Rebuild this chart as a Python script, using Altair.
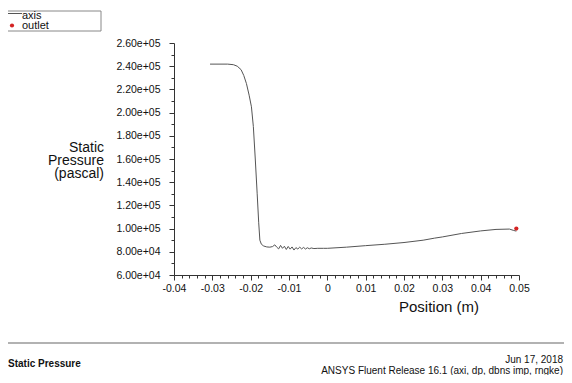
import altair as alt
import pandas as pd

# ---- data ----
position = [-0.0306, -0.026, -0.0245, -0.0235, -0.0225, -0.0218, -0.0211, -0.0204,
            -0.0198, -0.0193, -0.0188, -0.0183, -0.0179, -0.0176, -0.0172, -0.0166,
            -0.0158, -0.015, -0.0143, -0.0137, -0.0132, -0.0127, -0.0122, -0.0117,
            -0.0112, -0.0107, -0.0102, -0.0097, -0.0092, -0.0087, -0.0082, -0.0077,
            -0.0072, -0.0067, -0.0062, -0.0057, -0.0052, -0.0047, -0.0042, -0.0035,
            -0.0025, -0.001, 0.0, 0.005, 0.01, 0.015, 0.02, 0.025, 0.028, 0.03,
            0.035, 0.04, 0.044, 0.0475, 0.0485, 0.0493]
pressure = [241800, 241800, 241300, 240000, 237000, 232000, 225000, 215000,
            205000, 188000, 160000, 130000, 105000, 90000, 86500, 85000,
            84200, 84000, 84500, 86000, 84000, 82500, 85500, 83000,
            84800, 82000, 84600, 82300, 84200, 81500, 83600, 82400,
            84000, 82500, 83800, 82400, 83500, 82600, 83300, 82800,
            83000, 83000, 83000, 84000, 85300, 86500, 88000, 90000, 91800, 92800,
            95800, 98000, 99300, 99600, 98500, 97800]
outlet_position = [0.0493]
outlet_pressure = [100000]

x_major = [-0.04, -0.03, -0.02, -0.01, 0.0, 0.01, 0.02, 0.03, 0.04, 0.05]
y_major = [60000, 80000, 100000, 120000, 140000, 160000, 180000, 200000, 220000, 240000, 260000]

y_title_lines = ["Static", "Pressure", "(pascal)"]
x_title = "Position (m)"
legend_labels = ["axis", "outlet"]
footer_left = "Static Pressure"
footer_right = ["Jun 17, 2018", "ANSYS Fluent Release 16.1 (axi, dp, dbns imp, rngke)"]

# tick positions incl. minor ticks (between majors)
x_ticks = sorted(set([round(x_major[0] + 0.002 * i, 3) for i in range(46)]))
y_ticks = [y_major[0] + 10000 * i for i in range(21)]

FONT = "Liberation Sans"
LINE = "#555555"
RED = "#d42424"

curve = pd.DataFrame({"x": position, "y": pressure})
outlet = pd.DataFrame({"x": outlet_position, "y": outlet_pressure})
one = pd.DataFrame({"a": [0]})

xs = alt.Scale(domain=[x_major[0], x_major[-1]], nice=False, zero=False)
ys = alt.Scale(domain=[y_major[0], y_major[-1]], nice=False, zero=False)

x_axis = alt.Axis(
    values=x_ticks, tickCount=500, title=None, grid=False,
    labelExpr="abs(round(datum.value*1000)) % 10 == 0 ? '' + round(datum.value*100)/100 : ''",
    tickSize={"condition": {"test": "abs(round(datum.value*1000)) % 10 == 0", "value": 5}, "value": 3},
    labelFont=FONT, labelFontSize=10.5, labelColor="#111", labelPadding=3,
    domainColor="#333", tickColor="#333", labelOverlap=False, labelFlush=False,
)
y_axis = alt.Axis(
    values=y_ticks, tickCount=500, title=None, grid=False,
    labelExpr="round(datum.value/10000) % 2 == 0 ? replace(format(datum.value, '.2e'), 'e+', 'e+0') : ''",
    tickSize={"condition": {"test": "round(datum.value/10000) % 2 == 0", "value": 5}, "value": 3},
    labelFont=FONT, labelFontSize=10.5, labelColor="#111", labelPadding=9,
    domainColor="#333", tickColor="#333", labelOverlap=False, labelFlush=False,
)

line = alt.Chart(curve).mark_line(color=LINE, strokeWidth=1).encode(
    x=alt.X("x:Q", scale=xs, axis=x_axis),
    y=alt.Y("y:Q", scale=ys, axis=y_axis),
    order="x:Q",
)
dot = alt.Chart(outlet).mark_circle(color=RED, size=18, opacity=1).encode(
    x=alt.X("x:Q", scale=xs), y=alt.Y("y:Q", scale=ys)
)


def txt(text, x, y, size, align="left", weight="normal", baseline="middle"):
    return alt.Chart(one).mark_text(
        font=FONT, fontSize=size, align=align, baseline=baseline,
        fontWeight=weight, color="#111"
    ).encode(x=alt.value(x), y=alt.value(y), text=alt.value(text))


layers = [line, dot]

# y title
for i, t in enumerate(y_title_lines):
    layers.append(txt(t, -70, 105 + 13 * i, 14, align="right"))
# x title
layers.append(txt(x_title, 265, 264, 15, align="center"))

# legend box
layers.append(alt.Chart(one).mark_rect(fill="white", stroke="#888", strokeWidth=1).encode(
    x=alt.value(-171), x2=alt.value(-73), y=alt.value(-32), y2=alt.value(-12)))
layers.append(alt.Chart(one).mark_rule(color=LINE, strokeWidth=1).encode(
    x=alt.value(-171), x2=alt.value(-152), y=alt.value(-29.5)))
layers.append(alt.Chart(one).mark_circle(color=RED, size=18, opacity=1).encode(
    x=alt.value(-162), y=alt.value(-17.5)))
layers.append(txt(legend_labels[0], -152, -27.5, 11))
layers.append(txt(legend_labels[1], -152, -17.5, 11))

# footer box
layers.append(alt.Chart(one).mark_rect(fill="white", fillOpacity=0, stroke="#999", strokeWidth=1.5).encode(
    x=alt.value(-171), x2=alt.value(420), y=alt.value(300), y2=alt.value(360)))
layers.append(txt(footer_left, -166, 321, 10, weight="bold"))
layers.append(txt(footer_right[0], 389, 317, 10, align="right"))
layers.append(txt(footer_right[1], 389, 327.5, 10, align="right"))

chart = alt.layer(*layers).properties(
    width=345, height=232,
    autosize=alt.AutoSizeParams(type="none"),
    padding={"left": 166, "top": 35, "right": 45, "bottom": 100},
    background="white",
).configure_view(stroke=None)

chart.save("out.html", embed_options={"renderer": "svg", "actions": False})
